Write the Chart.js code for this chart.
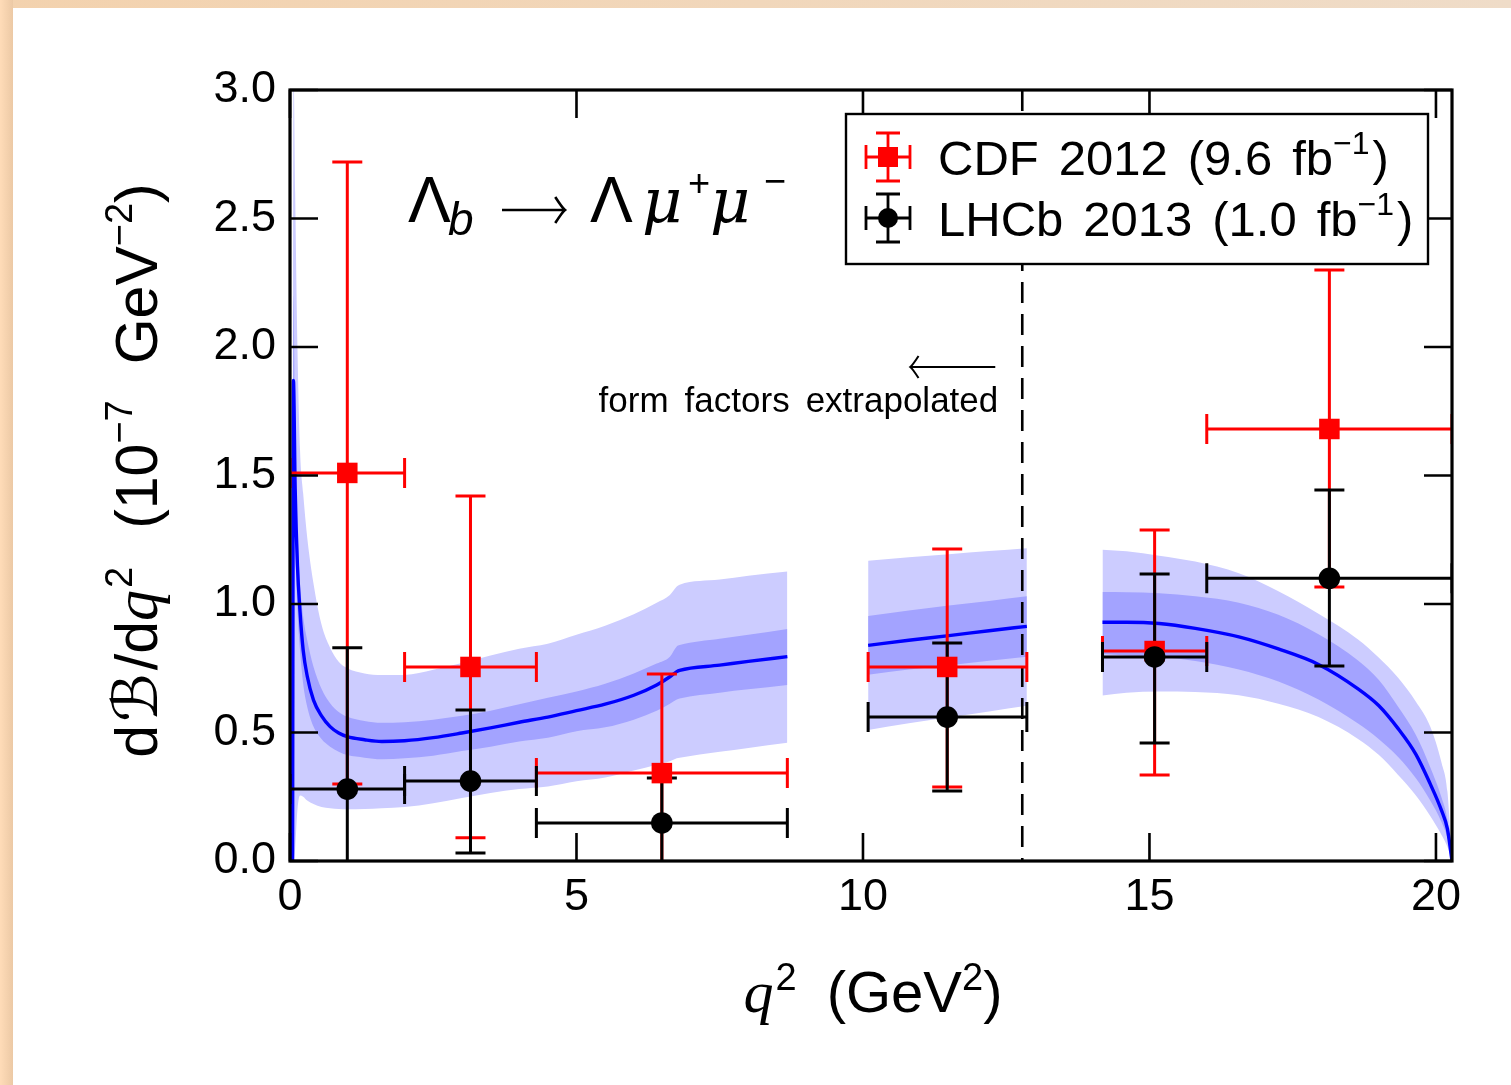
<!DOCTYPE html>
<html><head><meta charset="utf-8">
<script src="https://cdn.jsdelivr.net/npm/chart.js@4/dist/chart.umd.min.js"></script>
<style>
html,body{margin:0;padding:0;width:1511px;height:1085px;overflow:hidden;background:#fff;}
#topband{position:absolute;left:0;top:0;width:1511px;height:8px;background:linear-gradient(to right,#f3d2ae,#efdcc8);}
#leftband{position:absolute;left:0;top:0;width:13px;height:1085px;background:linear-gradient(to right,#ffdcb8,#ecc9a5);}
#wrap{position:absolute;left:13px;top:8px;width:1498px;height:1077px;background:#fff;}
</style></head><body>
<div id="topband"></div><div id="leftband"></div>
<div id="wrap"><canvas id="c" width="1498" height="1077"></canvas></div>
<script>
// ---------- axes ----------
const xTicks = [0, 5, 10, 15, 20];
const xTickLabels = ['0', '5', '10', '15', '20'];
const yTicks = [0, 0.5, 1.0, 1.5, 2.0, 2.5, 3.0];
const yTickLabels = ['0.0', '0.5', '1.0', '1.5', '2.0', '2.5', '3.0'];
const X_MIN = 0, X_MAX = 20.28, Y_MIN = 0, Y_MAX = 3.0;
const EXTRAP_Q2 = 12.78;

// ---------- CDF 2012 (red squares) ----------
const cdfQ2   = [1.0, 3.15, 6.49, 11.47, 15.09, 18.14];
const cdfQ2Lo = [0.0, 2.0, 4.3, 10.09, 14.18, 16.0];
const cdfQ2Hi = [2.0, 4.3, 8.68, 12.86, 16.0, 20.28];
const cdfVal  = [1.51, 0.755, 0.342, 0.755, 0.817, 1.681];
const cdfLo   = [0.30, 0.09, -0.20, 0.288, 0.335, 1.066];
const cdfHi   = [2.72, 1.42, 0.728, 1.214, 1.288, 2.30];

// ---------- LHCb 2013 (black circles) ----------
const lhcbQ2   = [1.0, 3.15, 6.49, 11.47, 15.09, 18.14];
const lhcbQ2Lo = [0.0, 2.0, 4.3, 10.09, 14.18, 16.0];
const lhcbQ2Hi = [2.0, 4.3, 8.68, 12.86, 16.0, 20.28];
const lhcbVal  = [0.28, 0.311, 0.148, 0.56, 0.794, 1.10];
const lhcbLo   = [-0.10, 0.031, -0.10, 0.272, 0.459, 0.759];
const lhcbHi   = [0.83, 0.588, 0.323, 0.848, 1.117, 1.444];

// ---------- theory: segment A ----------
const segA_q       = [0.045,0.06,0.09,0.13,0.175,0.23,0.3,0.41,0.55,0.7,0.85,1.0,1.3,1.6,2.0,2.5,3.0,3.5,4.0,4.5,5.0,5.5,6.0,6.4,6.63,6.75,6.8,7.5,8.0,8.68];
const segA_mid     = [0,1.87,1.45,1.15,0.97,0.82,0.72,0.626,0.565,0.523,0.498,0.484,0.472,0.465,0.468,0.48,0.498,0.518,0.54,0.56,0.585,0.61,0.645,0.685,0.717,0.737,0.742,0.762,0.777,0.795];
const segA_lightHi = [0,3.1,2.6,2.0,1.6,1.43,1.26,1.08,0.92,0.83,0.775,0.75,0.73,0.724,0.724,0.744,0.77,0.80,0.826,0.845,0.88,0.915,0.96,1.005,1.035,1.068,1.075,1.095,1.11,1.126];
const segA_darkHi  = [0,2.2,1.65,1.3,1.08,0.95,0.86,0.756,0.67,0.614,0.58,0.561,0.545,0.538,0.54,0.55,0.565,0.585,0.61,0.635,0.66,0.69,0.73,0.768,0.795,0.835,0.84,0.865,0.88,0.903];
const segA_darkLo  = [0,1.55,1.25,0.98,0.82,0.69,0.6,0.523,0.475,0.445,0.425,0.412,0.402,0.396,0.4,0.41,0.428,0.445,0.465,0.48,0.505,0.52,0.55,0.585,0.612,0.628,0.632,0.655,0.668,0.685];
const segA_lightLo = [0,0.0,0.05,0.2,0.255,0.25,0.235,0.222,0.21,0.205,0.202,0.201,0.202,0.205,0.21,0.225,0.245,0.265,0.28,0.29,0.31,0.325,0.352,0.375,0.388,0.40,0.402,0.425,0.44,0.46];

// ---------- theory: segment B ----------
const segB_q       = [10.09, 10.8, 11.5, 12.2, 12.86];
const segB_mid     = [0.839, 0.859, 0.877, 0.896, 0.913];
const segB_lightHi = [1.168, 1.182, 1.194, 1.206, 1.217];
const segB_darkHi  = [0.953, 0.975, 0.994, 1.012, 1.03];
const segB_darkLo  = [0.725, 0.745, 0.762, 0.779, 0.795];
const segB_lightLo = [0.51, 0.536, 0.559, 0.582, 0.604];

// ---------- theory: segment C ----------
const segC_q       = [14.18,14.6,15.17,15.8,16.56,17.25,17.95,18.64,19.0,19.34,19.65,19.9,20.1,20.2,20.28];
const segC_mid     = [0.929,0.929,0.924,0.905,0.872,0.825,0.765,0.67,0.605,0.515,0.415,0.3,0.195,0.125,0];
const segC_lightHi = [1.211,1.205,1.188,1.165,1.12,1.05,0.962,0.862,0.792,0.713,0.62,0.523,0.38,0.27,0];
const segC_darkHi  = [1.047,1.046,1.042,1.03,1.005,0.958,0.882,0.78,0.705,0.6,0.49,0.365,0.245,0.16,0];
const segC_darkLo  = [0.805,0.80,0.795,0.778,0.745,0.698,0.628,0.535,0.475,0.405,0.322,0.235,0.15,0.09,0];
const segC_lightLo = [0.644,0.655,0.66,0.658,0.645,0.612,0.56,0.475,0.413,0.335,0.255,0.175,0.1,0.055,0];

const legendLabels = ['CDF 2012', 'LHCb 2013'];
const legendLumi = ['(9.6 fb', '(1.0 fb'];

// ---------- styles ----------
const LIGHT = 'rgb(204,204,255)';
const DARK = 'rgb(163,163,255)';
const BLUE = '#0000ff';
const RED = '#ff0000';
const SANS = '"Liberation Sans", Arial, Helvetica, sans-serif';
const SERIF = '"Liberation Serif", "DejaVu Serif", serif';

function pts(xs, ys) { return xs.map((x, i) => ({ x, y: ys[i] })); }

const segs = [
  { q: segA_q, mid: segA_mid, lHi: segA_lightHi, dHi: segA_darkHi, dLo: segA_darkLo, lLo: segA_lightLo },
  { q: segB_q, mid: segB_mid, lHi: segB_lightHi, dHi: segB_darkHi, dLo: segB_darkLo, lLo: segB_lightLo },
  { q: segC_q, mid: segC_mid, lHi: segC_lightHi, dHi: segC_darkHi, dLo: segC_darkLo, lLo: segC_lightLo }
];

const edge = (data, order, fill, color) => ({
  data, showLine: true, fill, backgroundColor: color, borderColor: 'rgba(0,0,0,0)', borderWidth: 0,
  pointRadius: 0, cubicInterpolationMode: 'monotone', order
});
const datasets = [];
segs.forEach(s => {
  datasets.push(edge(pts(s.q, s.lHi), 10, '+1', LIGHT));
  datasets.push(edge(pts(s.q, s.lLo), 10, false, LIGHT));
  datasets.push(edge(pts(s.q, s.dHi), 9, '+1', DARK));
  datasets.push(edge(pts(s.q, s.dLo), 9, false, DARK));
  datasets.push({ data: pts(s.q, s.mid), showLine: true, fill: false, borderColor: BLUE, borderWidth: 3.4,
    pointRadius: 0, cubicInterpolationMode: 'monotone', order: 8 });
});
datasets.push({ id: 'cdf', data: pts(cdfQ2, cdfVal), pointStyle: 'rect', pointRadius: 14.5, pointBorderWidth: 0,
  backgroundColor: RED, borderColor: RED, showLine: false, order: 2 });
datasets.push({ id: 'lhcb', data: pts(lhcbQ2, lhcbVal), pointStyle: 'circle', pointRadius: 10.8, pointBorderWidth: 0,
  backgroundColor: '#000', borderColor: '#000', showLine: false, order: 1 });

function drawErr(chart, xs, xlo, xhi, ys, ylo, yhi, color) {
  const X = chart.scales.x, Y = chart.scales.y, ctx = chart.ctx, a = chart.chartArea;
  ctx.save();
  ctx.beginPath(); ctx.rect(a.left, a.top, a.right - a.left, a.bottom - a.top); ctx.clip();
  ctx.strokeStyle = color; ctx.lineWidth = 3; ctx.lineCap = 'butt';
  const cap = 15;
  for (let i = 0; i < xs.length; i++) {
    const px = X.getPixelForValue(xs[i]), py = Y.getPixelForValue(ys[i]);
    const l = X.getPixelForValue(xlo[i]), r = X.getPixelForValue(xhi[i]);
    const lo = Y.getPixelForValue(ylo[i]), hi = Y.getPixelForValue(yhi[i]);
    ctx.beginPath();
    ctx.moveTo(l, py); ctx.lineTo(r, py);
    ctx.moveTo(l, py - cap); ctx.lineTo(l, py + cap);
    ctx.moveTo(r, py - cap); ctx.lineTo(r, py + cap);
    ctx.moveTo(px, lo); ctx.lineTo(px, hi);
    ctx.moveTo(px - cap, lo); ctx.lineTo(px + cap, lo);
    ctx.moveTo(px - cap, hi); ctx.lineTo(px + cap, hi);
    ctx.stroke();
  }
  ctx.restore();
}

function drawRich(ctx, parts, x, y, align) {
  let w = 0;
  parts.forEach(p => { ctx.font = p.font; p.w = ctx.measureText(p.t).width + (p.gap || 0); w += p.w; });
  let cx = align === 'center' ? x - w / 2 : (align === 'right' ? x - w : x);
  parts.forEach(p => { ctx.font = p.font; ctx.fillText(p.t, cx, y + (p.dy || 0)); cx += p.w; });
  return w;
}

function drawLatexArrow(ctx, xTip, xTail, y, head) {
  const dir = xTip < xTail ? 1 : -1;
  ctx.beginPath();
  ctx.moveTo(xTail, y); ctx.lineTo(xTip, y);
  ctx.moveTo(xTip + dir * head * 0.75, y - head);
  ctx.quadraticCurveTo(xTip + dir * head * 0.2, y - head * 0.15, xTip, y);
  ctx.quadraticCurveTo(xTip + dir * head * 0.2, y + head * 0.15, xTip + dir * head * 0.75, y + head);
  ctx.stroke();
}

const deco = {
  id: 'deco',
  beforeDatasetDraw(chart, args) {
    const ds = chart.data.datasets[args.index];
    if (ds.id === 'cdf') {
      const ctx = chart.ctx, a = chart.chartArea;
      const xd = chart.scales.x.getPixelForValue(EXTRAP_Q2);
      ctx.save();
      ctx.strokeStyle = '#000'; ctx.lineWidth = 2.6; ctx.setLineDash([21, 11]);
      ctx.beginPath(); ctx.moveTo(xd, a.top); ctx.lineTo(xd, a.bottom); ctx.stroke();
      ctx.restore();
      drawErr(chart, cdfQ2, cdfQ2Lo, cdfQ2Hi, cdfVal, cdfLo, cdfHi, RED);
      drawErr(chart, lhcbQ2, lhcbQ2Lo, lhcbQ2Hi, lhcbVal, lhcbLo, lhcbHi, '#000');
    }
  },
  afterDraw(chart) {
    const ctx = chart.ctx, a = chart.chartArea, X = chart.scales.x, Y = chart.scales.y;
    ctx.save();
    // inward ticks on all four sides
    ctx.strokeStyle = '#000'; ctx.lineWidth = 2.6;
    const tl = 28;
    ctx.beginPath();
    xTicks.forEach(v => {
      const px = X.getPixelForValue(v);
      ctx.moveTo(px, a.bottom); ctx.lineTo(px, a.bottom - tl);
      ctx.moveTo(px, a.top); ctx.lineTo(px, a.top + tl);
    });
    yTicks.forEach(v => {
      const py = Y.getPixelForValue(v);
      ctx.moveTo(a.left, py); ctx.lineTo(a.left + tl, py);
      ctx.moveTo(a.right, py); ctx.lineTo(a.right - tl, py);
    });
    ctx.stroke();
    // frame
    ctx.lineWidth = 3.2;
    ctx.strokeRect(a.left, a.top, a.right - a.left, a.bottom - a.top);

    // legend
    const lx = a.left + 556, ly = a.top + 24, lw = 582, lh = 150;
    ctx.fillStyle = '#fff'; ctx.fillRect(lx, ly, lw, lh);
    ctx.lineWidth = 2.4; ctx.strokeStyle = '#000'; ctx.strokeRect(lx, ly, lw, lh);
    const sx = lx + 42;
    const rows = [ly + 43, ly + 104];
    const cols = [RED, '#000'];
    rows.forEach((ry, k) => {
      ctx.strokeStyle = cols[k]; ctx.lineWidth = 2.8;
      ctx.beginPath();
      ctx.moveTo(sx - 22, ry); ctx.lineTo(sx + 22, ry);
      ctx.moveTo(sx - 22, ry - 12); ctx.lineTo(sx - 22, ry + 12);
      ctx.moveTo(sx + 22, ry - 12); ctx.lineTo(sx + 22, ry + 12);
      ctx.moveTo(sx, ry - 24); ctx.lineTo(sx, ry + 24);
      ctx.moveTo(sx - 12, ry - 24); ctx.lineTo(sx + 12, ry - 24);
      ctx.moveTo(sx - 12, ry + 24); ctx.lineTo(sx + 12, ry + 24);
      ctx.stroke();
      ctx.fillStyle = cols[k];
      if (k === 0) { ctx.fillRect(sx - 10, ry - 10, 20, 20); }
      else { ctx.beginPath(); ctx.arc(sx, ry, 10, 0, Math.PI * 2); ctx.fill(); }
      ctx.fillStyle = '#000';
      ctx.textBaseline = 'alphabetic';
      const f = '49px ' + SANS, fs = '32px ' + SANS;
      drawRich(ctx, [
        { t: legendLabels[k].split(' ')[0], font: f, gap: 20 },
        { t: legendLabels[k].split(' ')[1], font: f, gap: 20 },
        { t: legendLumi[k].split(' ')[0], font: f, gap: 20 },
        { t: legendLumi[k].split(' ')[1], font: f },
        { t: '\u22121', font: fs, dy: -21, gap: 3 },
        { t: ')', font: f }
      ], lx + 92, ry + 18, 'left');
    });

    // process label
    ctx.fillStyle = '#000'; ctx.strokeStyle = '#000';
    const tx = a.left + 118, tb = a.top + 132;
    ctx.font = '64px ' + SANS; ctx.fillText('\u039B', tx, tb);
    ctx.font = 'italic 46px ' + SANS; ctx.fillText('b', tx + 40, tb + 13);
    ctx.lineWidth = 2.6; drawLatexArrow(ctx, tx + 157, tx + 94, tb - 12, 13);
    ctx.font = '64px ' + SANS; ctx.fillText('\u039B', tx + 182, tb);
    ctx.font = 'italic 62px "DejaVu Serif", serif'; ctx.fillText('\u03BC', tx + 234, tb);
    ctx.font = '38px ' + SANS; ctx.fillText('+', tx + 280, tb - 26);
    ctx.font = 'italic 62px "DejaVu Serif", serif'; ctx.fillText('\u03BC', tx + 302, tb);
    ctx.font = '38px ' + SANS; ctx.fillText('\u2212', tx + 356, tb - 28);

    // extrapolation annotation
    const xd = X.getPixelForValue(EXTRAP_Q2);
    const af = '35px ' + SANS;
    drawRich(ctx, [
      { t: 'form', font: af, gap: 16 },
      { t: 'factors', font: af, gap: 16 },
      { t: 'extrapolated', font: af }
    ], xd - 24, a.top + 322, 'right');
    ctx.lineWidth = 2; drawLatexArrow(ctx, xd - 112, xd - 27, a.top + 277, 11);

    // x-axis title
    const tf = '58px ' + SANS, ts = '38px ' + SANS;
    drawRich(ctx, [
      { t: 'q', font: 'italic 60px ' + SERIF, gap: 2 },
      { t: '2', font: ts, dy: -22, gap: 30 },
      { t: '(GeV', font: tf },
      { t: '2', font: ts, dy: -22 },
      { t: ')', font: tf }
    ], (a.left + a.right) / 2 + 2, a.bottom + 151, 'center');

    // y-axis title (rotated)
    ctx.save();
    ctx.translate(a.left - 133, (a.top + a.bottom) / 2 - 5);
    ctx.rotate(-Math.PI / 2);
    const yf = '59px ' + SANS, ys = '38px ' + SANS;
    drawRich(ctx, [
      { t: 'd', font: yf, gap: 3 },
      { t: '\u212C', font: '62px "DejaVu Sans", sans-serif', gap: 3 },
      { t: '/d', font: yf },
      { t: 'q', font: 'italic 62px ' + SERIF, gap: 2 },
      { t: '2', font: ys, dy: -25, gap: 38 },
      { t: '(10', font: yf },
      { t: '\u22127', font: ys, dy: -25, gap: 36 },
      { t: 'GeV', font: yf },
      { t: '\u22122', font: ys, dy: -25 },
      { t: ')', font: yf }
    ], 0, 0, 'center');
    ctx.restore();
    ctx.restore();
  }
};

Chart.defaults.font.family = SANS;
new Chart(document.getElementById('c'), {
  type: 'scatter',
  data: { datasets },
  options: {
    responsive: false, animation: false, devicePixelRatio: 1, events: [],
    layout: { padding: { left: 0, top: 82, right: 59, bottom: 0 } },
    plugins: { legend: { display: false }, tooltip: { enabled: false }, title: { display: false } },
    scales: {
      x: {
        type: 'linear', min: X_MIN, max: X_MAX,
        afterBuildTicks: s => { s.ticks = xTicks.map(v => ({ value: v })); },
        afterFit: s => { s.height = 224; },
        grid: { display: false, drawTicks: false }, border: { display: false },
        ticks: { color: '#000', font: { size: 45, family: SANS }, padding: 10, maxRotation: 0, autoSkip: false,
          callback: (v, i) => xTickLabels[i] }
      },
      y: {
        type: 'linear', min: Y_MIN, max: Y_MAX,
        afterBuildTicks: s => { s.ticks = yTicks.map(v => ({ value: v })); },
        afterFit: s => { s.width = 277; },
        grid: { display: false, drawTicks: false }, border: { display: false },
        ticks: { color: '#000', font: { size: 45, family: SANS }, padding: 14, autoSkip: false,
          callback: (v, i) => yTickLabels[i] }
      }
    }
  },
  plugins: [deco]
});
</script>
</body></html>
